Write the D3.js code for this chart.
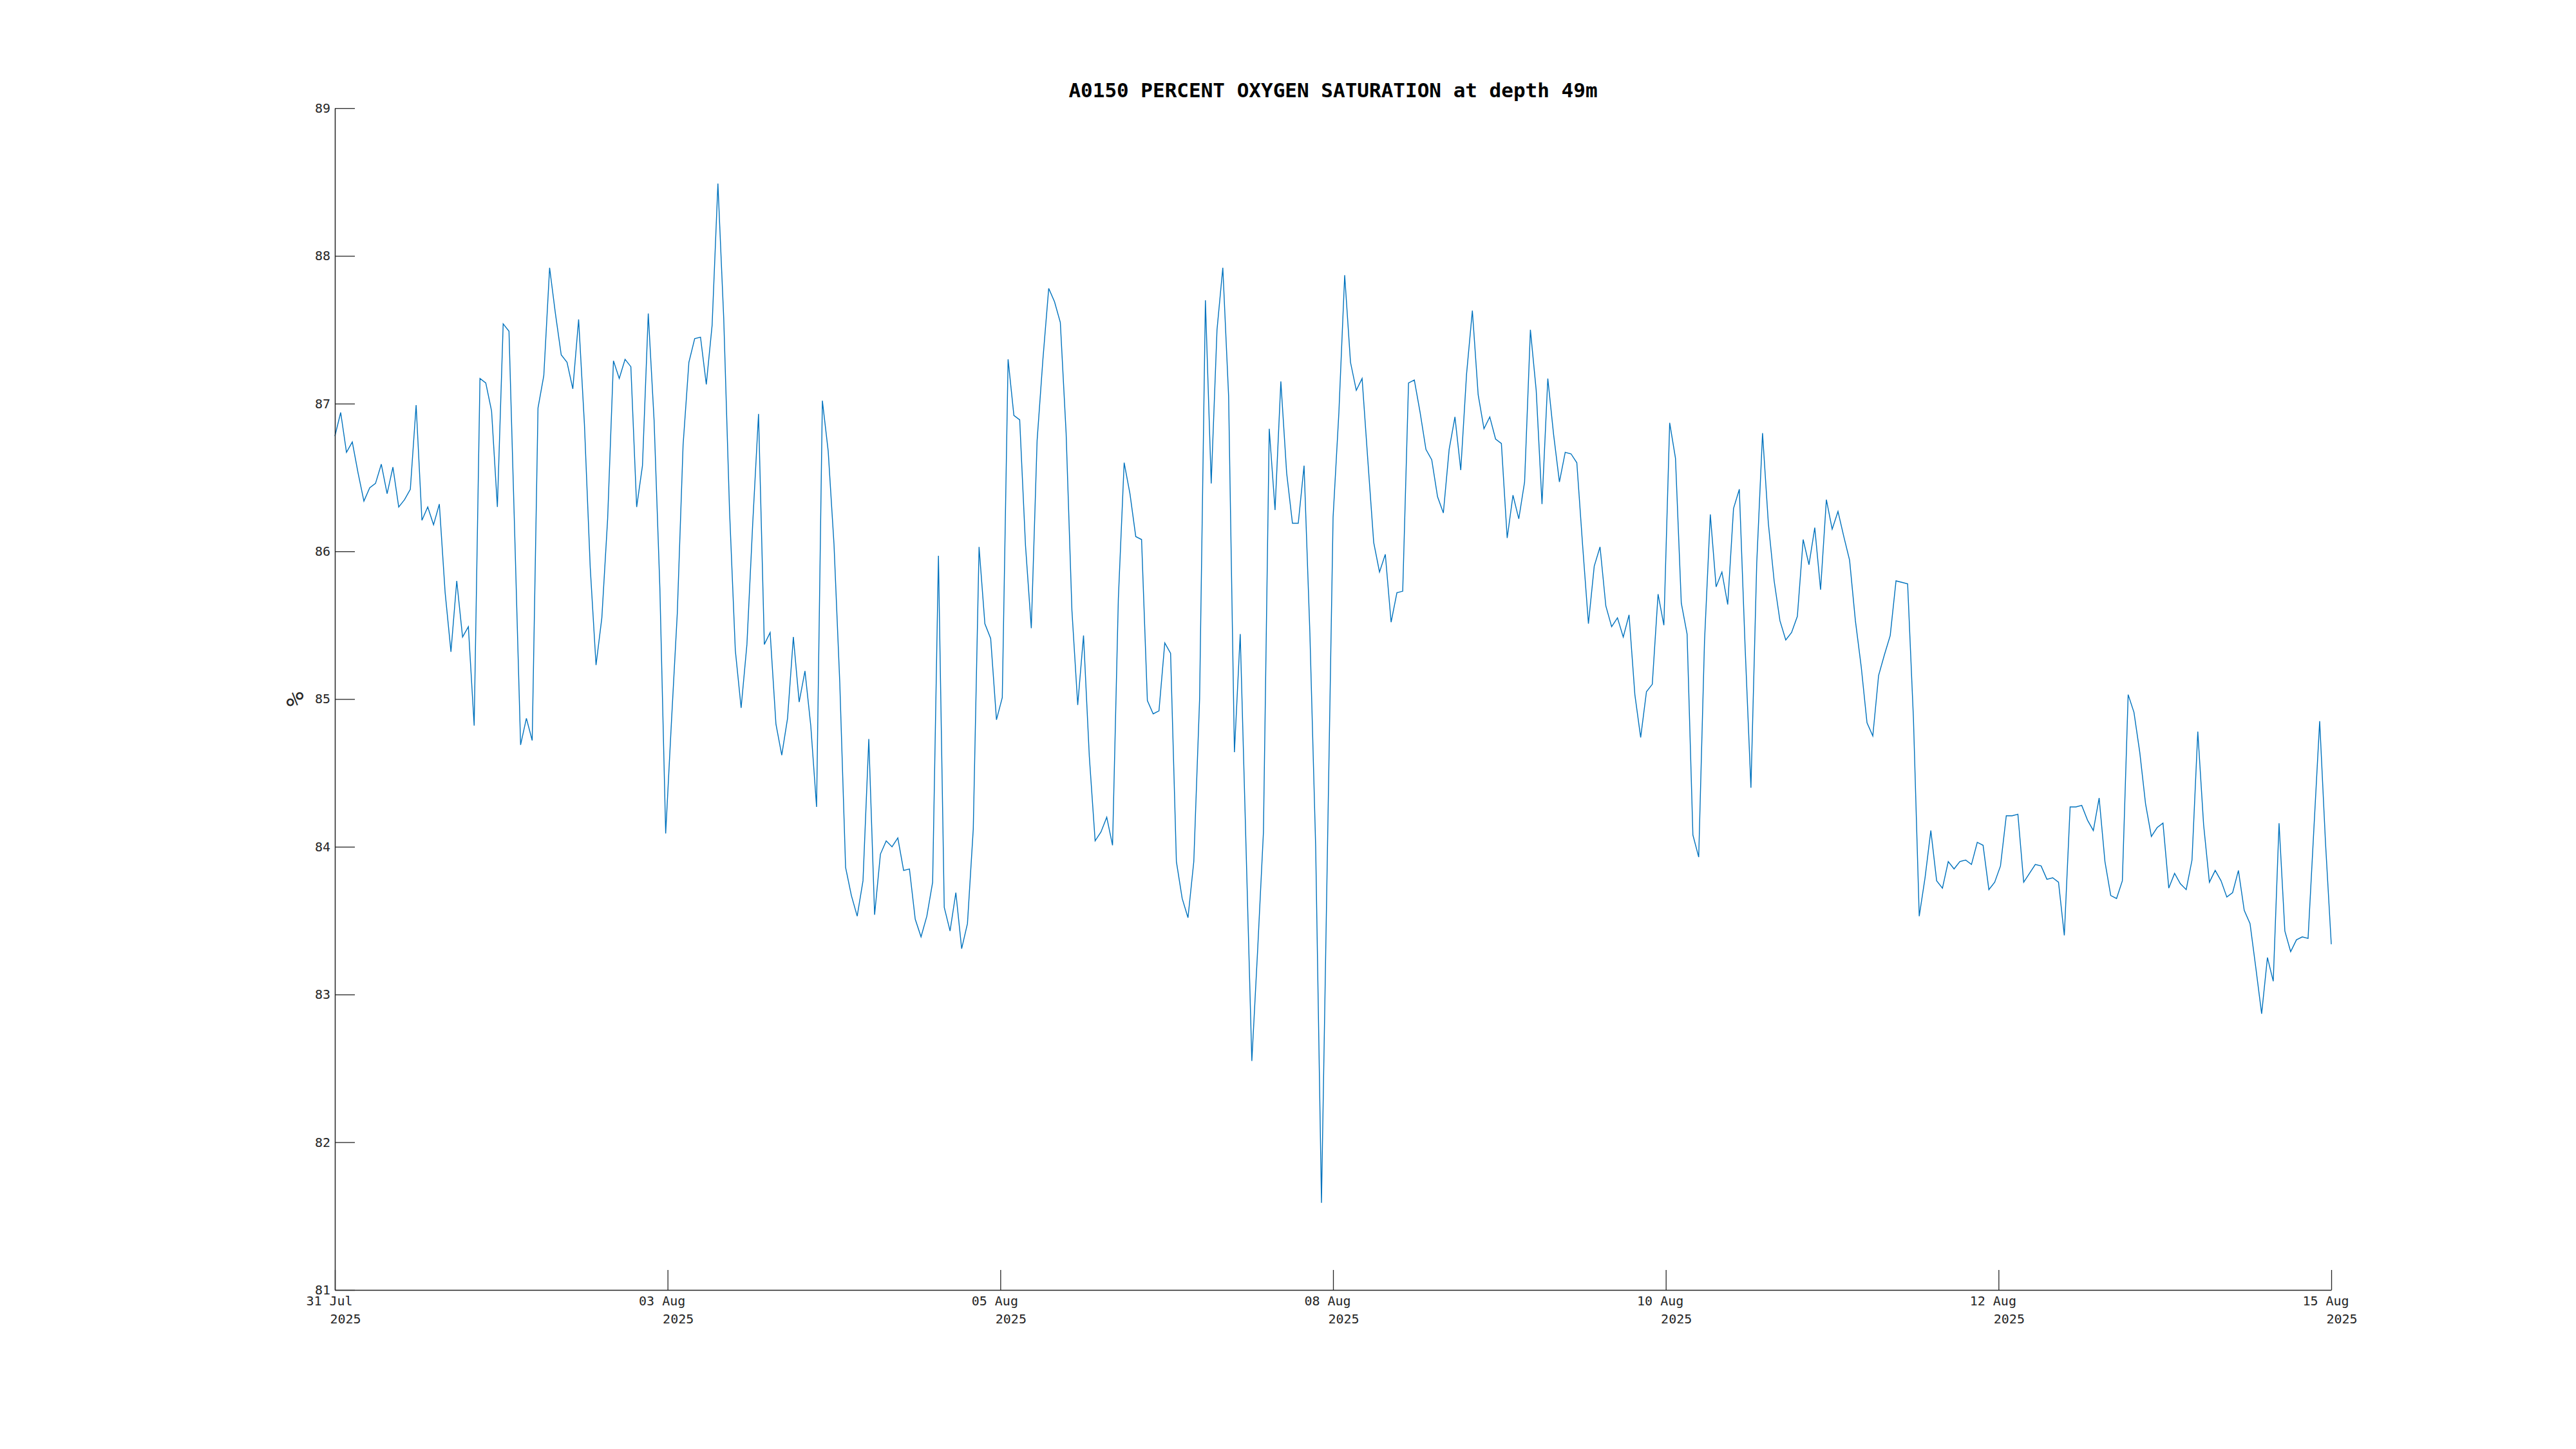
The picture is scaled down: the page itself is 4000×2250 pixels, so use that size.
<!DOCTYPE html>
<html>
<head>
<meta charset="utf-8">
<script src="https://cdn.jsdelivr.net/npm/d3@7"></script>
<style>
  html, body { margin: 0; padding: 0; background: #ffffff; }
  svg { display: block; }
</style>
</head>
<body>
<svg id="chart" width="4000" height="2250"></svg>
<script>
// ---------- data ----------
const chartTitle = "A0150 PERCENT OXYGEN SATURATION at depth 49m";
const yLabel = "%";
const seriesStart = "2025-07-31T21:00:00Z";   // first sample
const sampleHours = 1;                         // hourly samples
const oxygenSaturation = [
  86.78,86.94,86.67,86.74,86.53,86.34,86.43,86.46,86.59,86.39,
  86.57,86.30,86.35,86.42,86.99,86.21,86.30,86.18,86.32,85.72,
  85.32,85.80,85.42,85.49,84.82,87.17,87.14,86.95,86.30,87.54,
  87.49,86.10,84.69,84.87,84.72,86.97,87.19,87.92,87.61,87.33,
  87.28,87.10,87.57,86.86,85.89,85.23,85.55,86.22,87.29,87.17,
  87.30,87.25,86.30,86.58,87.61,86.89,85.75,84.09,84.85,85.58,
  86.72,87.28,87.44,87.45,87.13,87.53,88.49,87.58,86.28,85.33,
  84.94,85.37,86.19,86.93,85.37,85.45,84.83,84.62,84.87,85.42,
  84.98,85.19,84.82,84.27,87.02,86.68,86.05,85.11,83.86,83.67,
  83.53,83.77,84.73,83.54,83.95,84.04,84.00,84.06,83.84,83.85,
  83.51,83.39,83.53,83.76,85.97,83.59,83.43,83.69,83.31,83.48,
  84.12,86.03,85.51,85.41,84.86,85.01,87.30,86.92,86.89,86.04,
  85.48,86.75,87.30,87.78,87.69,87.55,86.80,85.60,84.96,85.43,
  84.61,84.04,84.10,84.20,84.01,85.68,86.60,86.39,86.10,86.08,
  84.99,84.90,84.92,85.38,85.31,83.90,83.65,83.52,83.90,85.00,
  87.70,86.46,87.50,87.92,87.05,84.64,85.44,84.00,82.55,83.30,
  84.10,86.83,86.28,87.15,86.53,86.19,86.19,86.58,85.45,84.00,
  81.59,83.91,86.23,86.94,87.87,87.28,87.09,87.17,86.61,86.06,
  85.86,85.98,85.52,85.72,85.73,87.14,87.16,86.94,86.69,86.62,
  86.37,86.26,86.69,86.91,86.55,87.20,87.63,87.06,86.83,86.91,
  86.76,86.73,86.09,86.38,86.22,86.47,87.50,87.09,86.32,87.17,
  86.79,86.47,86.67,86.66,86.60,86.04,85.51,85.90,86.03,85.63,
  85.49,85.55,85.42,85.57,85.03,84.74,85.05,85.10,85.71,85.50,
  86.87,86.63,85.65,85.44,84.08,83.93,85.39,86.25,85.76,85.86,
  85.64,86.29,86.42,85.35,84.40,85.92,86.80,86.19,85.80,85.53,
  85.40,85.45,85.56,86.08,85.91,86.16,85.74,86.35,86.15,86.27,
  86.10,85.94,85.53,85.22,84.84,84.75,85.16,85.30,85.43,85.80,
  85.79,85.78,84.87,83.53,83.79,84.11,83.77,83.72,83.90,83.85,
  83.90,83.91,83.88,84.03,84.01,83.71,83.76,83.87,84.21,84.21,
  84.22,83.76,83.82,83.88,83.87,83.78,83.79,83.76,83.40,84.27,
  84.27,84.28,84.18,84.11,84.33,83.90,83.67,83.65,83.77,85.03,
  84.91,84.64,84.29,84.07,84.13,84.16,83.72,83.82,83.75,83.71,
  83.91,84.78,84.15,83.76,83.84,83.77,83.66,83.69,83.84,83.57,
  83.48,83.18,82.87,83.25,83.09,84.16,83.43,83.29,83.37,83.39,
  83.38,84.12,84.85,84.03,83.34
];
const yTicks = [81, 82, 83, 84, 85, 86, 87, 88, 89];
const xTickDay = ["31 Jul", "03 Aug", "05 Aug", "08 Aug", "10 Aug", "12 Aug", "15 Aug"];
const xTickYear = ["2025", "2025", "2025", "2025", "2025", "2025", "2025"];

// ---------- layout ----------
const W = 4000, H = 2250;
const margin = { left: 520, right: 380, top: 168, bottom: 247 };
const plotW = W - margin.left - margin.right;
const plotH = H - margin.top - margin.bottom;
const axisColor = "#262626";
const lineColor = "#0072BD";
const monoFont = "'DejaVu Sans Mono', 'Liberation Mono', monospace";

const t0 = new Date(seriesStart);
const times = oxygenSaturation.map((_, i) => new Date(t0.getTime() + i * sampleHours * 3600e3));
const data = oxygenSaturation.map((v, i) => ({ t: times[i], v }));
const tEnd = times[times.length - 1];

const x = d3.scaleUtc().domain([t0, tEnd]).range([0, plotW]);
const y = d3.scaleLinear().domain([81, 89]).range([plotH, 0]);

const xTickVals = xTickDay.map((_, k) =>
  new Date(t0.getTime() + k * (tEnd.getTime() - t0.getTime()) / (xTickDay.length - 1)));

const svg = d3.select("#chart");
svg.append("rect").attr("width", W).attr("height", H).attr("fill", "#ffffff");

const g = svg.append("g").attr("transform", `translate(${margin.left},${margin.top})`);

// line
const line = d3.line().x(d => x(d.t)).y(d => y(d.v));
g.append("path")
  .datum(data)
  .attr("fill", "none")
  .attr("stroke", lineColor)
  .attr("stroke-width", 1.4)
  .attr("stroke-linejoin", "miter")
  .attr("d", line);

// y axis
const yAxis = d3.axisLeft(y).tickValues(yTicks).tickSizeInner(-31).tickSizeOuter(0).tickPadding(7)
  .tickFormat(d3.format("d"));
const gy = g.append("g").call(yAxis);
gy.select(".domain").attr("stroke", axisColor).attr("stroke-width", 1.5);
gy.selectAll(".tick line").attr("stroke", axisColor).attr("stroke-width", 1.3);
gy.selectAll(".tick text")
  .attr("fill", axisColor)
  .style("font-family", monoFont)
  .style("font-size", "20px");

// x axis
const xAxis = d3.axisBottom(x).tickValues(xTickVals).tickSizeInner(-31).tickSizeOuter(0).tickFormat("");
const gx = g.append("g").attr("transform", `translate(0,${plotH})`).call(xAxis);
gx.select(".domain").attr("stroke", axisColor).attr("stroke-width", 1.5);
gx.selectAll(".tick line").attr("stroke", axisColor).attr("stroke-width", 1.3);
gx.selectAll(".tick").each(function (d, i) {
  const t = d3.select(this);
  t.append("text")
    .attr("x", -9).attr("y", 24)
    .attr("text-anchor", "middle")
    .attr("fill", axisColor)
    .style("font-family", monoFont).style("font-size", "20px")
    .text(xTickDay[i]);
  t.append("text")
    .attr("x", 16).attr("y", 52)
    .attr("text-anchor", "middle")
    .attr("fill", axisColor)
    .style("font-family", monoFont).style("font-size", "20px")
    .text(xTickYear[i]);
});

// y label
svg.append("text")
  .attr("transform", `translate(471,${margin.top + plotH / 2}) rotate(-90)`)
  .attr("text-anchor", "middle")
  .attr("fill", axisColor)
  .style("font-family", monoFont)
  .style("font-size", "38px")
  .text(yLabel);

// title
svg.append("text")
  .attr("x", margin.left + plotW / 2)
  .attr("y", 151)
  .attr("text-anchor", "middle")
  .attr("fill", "#000000")
  .style("font-family", monoFont)
  .style("font-weight", "bold")
  .style("font-size", "31px")
  .text(chartTitle);
</script>
</body>
</html>
